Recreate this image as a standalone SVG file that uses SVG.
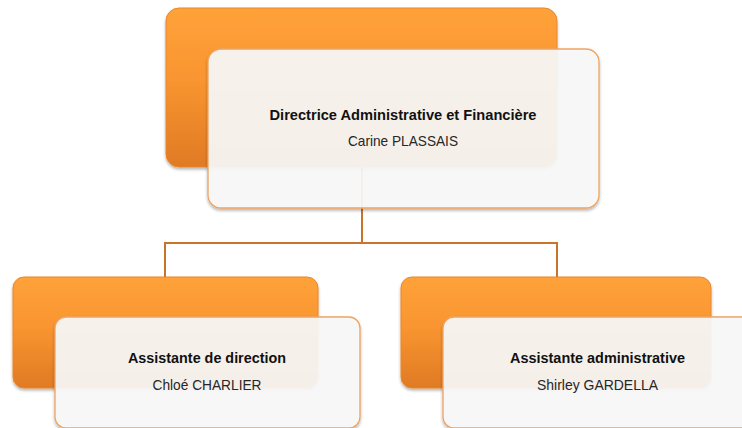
<svg xmlns="http://www.w3.org/2000/svg" width="742" height="428" viewBox="0 0 742 428">
<defs>
<linearGradient id="og" x1="0" y1="0" x2="0" y2="1">
<stop offset="0" stop-color="#FFA23A"/>
<stop offset="0.45" stop-color="#F99530"/>
<stop offset="1" stop-color="#E07A24"/>
</linearGradient>
<filter id="sh" x="-10%" y="-10%" width="120%" height="130%">
<feGaussianBlur in="SourceAlpha" stdDeviation="1.5"/>
<feOffset dx="0" dy="2" result="b"/>
<feComponentTransfer><feFuncA type="linear" slope="0.3"/></feComponentTransfer>
<feMerge><feMergeNode/><feMergeNode in="SourceGraphic"/></feMerge>
</filter>
</defs>
<style>
.conn{fill:none;stroke:#C8742A;stroke-width:2}
.orange{fill:url(#og);stroke:#E9862C;stroke-width:1;filter:url(#sh)}
.card{fill:#F8F8F8;fill-opacity:0.92;stroke:#EFA462;stroke-width:1.3;filter:url(#sh)}
.t1{font-family:"Liberation Sans",Arial,sans-serif;font-weight:bold;font-size:15px;fill:#111;text-anchor:middle}
.t2{font-family:"Liberation Sans",Arial,sans-serif;font-size:15px;fill:#262626;text-anchor:middle}
</style>
<g id="connectors">
<path class="conn" d="M362 166 V243 M165 243 H557 M165 242 V278 M557 242 V278"/>
</g>
<g id="node-top">
<rect class="orange" x="166" y="8" width="391" height="159" rx="13"/>
<rect class="card" x="208" y="49" width="391" height="159" rx="13"/>
<text class="t1" x="403" y="120" textLength="267" lengthAdjust="spacingAndGlyphs">Directrice Administrative et Financière</text>
<text class="t2" x="403" y="146" textLength="110" lengthAdjust="spacingAndGlyphs">Carine PLASSAIS</text>
</g>
<g id="node-left">
<rect class="orange" x="13" y="277" width="305" height="111" rx="11"/>
<rect class="card" x="55" y="317" width="305" height="111" rx="11"/>
<text class="t1" x="207" y="363" textLength="158" lengthAdjust="spacingAndGlyphs">Assistante de direction</text>
<text class="t2" x="207" y="390" textLength="109" lengthAdjust="spacingAndGlyphs">Chloé CHARLIER</text>
</g>
<g id="node-right">
<rect class="orange" x="401" y="277" width="310" height="111" rx="11"/>
<rect class="card" x="443" y="317" width="310" height="111" rx="11"/>
<text class="t1" x="597.5" y="363" textLength="175" lengthAdjust="spacingAndGlyphs">Assistante administrative</text>
<text class="t2" x="597.5" y="390" textLength="121" lengthAdjust="spacingAndGlyphs">Shirley GARDELLA</text>
</g>
</svg>
